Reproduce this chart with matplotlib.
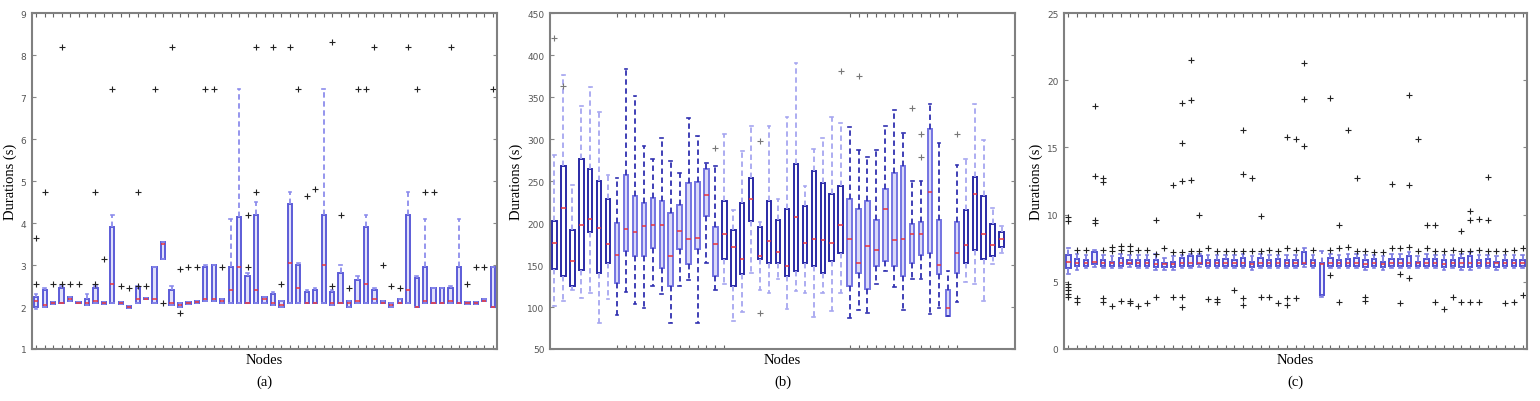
import matplotlib
matplotlib.use("Agg")
import matplotlib.pyplot as plt

# ---------------- panel (a): 55 nodes ----------------
a_q1 = [2.0, 2.0, 2.08, 2.1, 2.15, 2.1, 2.05, 2.1, 2.08, 2.1, 2.08, 1.98, 2.1, 2.18, 2.1,
        3.15, 2.05, 2.0, 2.08, 2.1, 2.15, 2.15, 2.1, 2.1, 2.1, 2.1, 2.1, 2.1, 2.05, 2.0,
        2.1, 2.1, 2.1, 2.1, 2.1, 2.05, 2.1, 2.0, 2.1, 2.1, 2.1, 2.1, 2.0, 2.1, 2.1,
        2.0, 2.1, 2.1, 2.1, 2.1, 2.1, 2.08, 2.08, 2.15, 2.0]
a_med = [2.15, 2.05, 2.1, 2.1, 2.2, 2.1, 2.1, 2.15, 2.1, 2.55, 2.1, 2.0, 2.2, 2.2, 2.2,
         3.5, 2.1, 2.05, 2.1, 2.12, 2.2, 2.2, 2.15, 2.4, 2.95, 2.1, 2.4, 2.2, 2.1, 2.05,
         3.05, 2.45, 2.1, 2.1, 3.0, 2.1, 2.1, 2.1, 2.15, 2.55, 2.2, 2.1, 2.05, 2.1, 2.4,
         2.0, 2.15, 2.1, 2.1, 2.15, 2.1, 2.1, 2.1, 2.15, 2.0]
a_q3 = [2.25, 2.4, 2.12, 2.45, 2.25, 2.12, 2.2, 2.45, 2.12, 3.9, 2.12, 2.02, 2.45, 2.22, 2.95,
        3.55, 2.4, 2.1, 2.12, 2.15, 2.95, 3.0, 2.2, 2.95, 4.15, 2.75, 4.2, 2.25, 2.3, 2.15,
        4.45, 3.0, 2.35, 2.4, 4.2, 2.35, 2.8, 2.15, 2.65, 3.9, 2.4, 2.15, 2.1, 2.2, 4.2,
        2.7, 2.95, 2.45, 2.45, 2.45, 2.95, 2.12, 2.12, 2.2, 2.95]
a_lo = [1.95, 2.0, 2.08, 2.1, 2.15, 2.1, 2.05, 2.1, 2.08, 2.1, 2.08, 1.98, 2.1, 2.18, 2.1,
        3.15, 2.05, 2.0, 2.08, 2.1, 2.15, 2.15, 2.1, 2.1, 2.1, 2.1, 2.1, 2.1, 2.05, 2.0,
        2.1, 2.1, 2.1, 2.1, 2.1, 2.05, 2.1, 2.0, 2.1, 2.1, 2.1, 2.1, 2.0, 2.1, 2.1,
        2.0, 2.1, 2.1, 2.1, 2.1, 2.1, 2.08, 2.08, 2.15, 2.0]
a_hi = [2.3, 2.45, 2.12, 2.5, 2.25, 2.12, 2.3, 2.5, 2.12, 4.2, 2.12, 2.02, 2.5, 2.22, 2.95,
        3.55, 2.5, 2.1, 2.12, 2.15, 3.0, 3.0, 2.2, 4.1, 7.2, 2.8, 4.5, 2.25, 2.35, 2.15,
        4.75, 3.05, 2.4, 2.45, 7.2, 2.4, 3.0, 2.15, 2.75, 4.2, 2.45, 2.15, 2.1, 2.2, 4.75,
        2.75, 4.1, 2.45, 2.45, 2.5, 4.1, 2.12, 2.12, 2.2, 2.95]
a_out = [[3.65, 2.55], [4.75], [2.55], [8.2, 2.55], [2.55], [2.55], [], [4.75, 2.55], [3.15],
         [7.2], [2.5], [2.45], [4.75, 2.5], [2.5], [7.2], [2.1], [8.2], [2.9, 1.85], [2.95],
         [2.95], [7.2], [7.2], [2.95], [], [], [4.2, 2.95], [4.75, 8.2], [], [8.2], [2.55],
         [8.2], [7.2], [4.65], [4.8], [], [8.3, 2.5], [4.2], [2.45], [7.2], [7.2], [8.2],
         [3.0], [2.5], [2.45], [8.2], [7.2], [4.75], [4.75], [], [8.2], [], [2.55], [2.95],
         [2.95], [7.2]]
a_style = ["A"] * 55

# ---------------- panel (b): 51 nodes ----------------
b_q1 = [145.4, 136.7, 124.8, 143.8, 189, 140.7, 152.6, 128.8, 166.5, 160.5, 160.5, 170.4,
        146.6, 124.8, 169, 150.6, 169, 208, 136.7, 156.6, 124.8, 138.7, 202, 156.6, 152.6,
        152.6, 137.5, 142.7, 152.6, 148.6, 140.7, 154.6, 163.7, 124.8, 140.7, 121.6, 148.6,
        154.6, 148.6, 136.7, 152.6, 162.5, 164.5, 138.7, 89, 140.7, 152.6, 167.7, 156.6,
        161.3, 171.6]
b_med = [176.4, 218, 154.6, 197.4, 205, 194, 175, 162.5, 192.3, 189.5, 196, 198, 197.4,
         160.5, 191, 181, 182, 233, 175, 187, 171.6, 157, 228, 160.5, 178.4, 165.7, 148.6,
         207, 176.4, 181.5, 179.2, 175.6, 197.4, 181.5, 152.6, 172.4, 168.4, 216.9, 179.2,
         181.2, 187, 187, 237, 149.8, 99, 163.7, 173.6, 234, 187, 173.6, 181.5]
b_q3 = [202, 267.7, 192, 276.4, 263.7, 249.8, 228, 200, 257.7, 232, 224, 230, 226, 212,
        222, 248, 248.6, 263.7, 195, 226, 192, 224, 253.8, 195.4, 226, 204, 216.9, 270.8,
        220.8, 261.7, 247.8, 234, 243.8, 229, 216.9, 226, 204, 240.7, 259.7, 267.7, 199.4,
        201, 312, 204, 120.8, 201, 216, 254.6, 232, 199.4, 189]
b_lo = [101, 107, 120.8, 111, 117, 81, 109.7, 91, 117.7, 103, 99, 125, 115, 81, 124.8,
        132.7, 81, 152.6, 120.8, 126.8, 83, 94, 140.7, 120.8, 117, 133.5, 97.8, 118.7,
        116.9, 88.3, 116.9, 95, 116.9, 87, 97, 93, 126.8, 142.7, 124, 97, 132.8, 132.8, 92,
        99, 89, 105.8, 129.6, 126.8, 107, 150.6, 164.5]
b_hi = [281.5, 375.6, 245.8, 339, 362, 332, 257.7, 253.8, 383.5, 351, 291.5, 275.6, 301.4,
        273.6, 259, 325, 304, 271.6, 268, 305.4, 215, 285.5, 315, 201, 316, 228.8, 326.4,
        390.7, 243.8, 288.3, 301.4, 326, 318.5, 314, 286.7, 278.8, 286.7, 315.3, 335, 307.3,
        249.8, 249.8, 342, 295.4, 142.7, 269.6, 276.4, 342, 298.6, 218, 196]
b_out = [[420], [363], [], [], [], [], [], [], [], [], [], [], [], [], [], [], [], [],
         [288.7], [], [], [], [], [298, 93], [], [], [], [], [], [], [], [], [380.8], [],
         [375], [], [], [], [], [], [337], [306, 278.8], [], [], [], [306], [], [], [], [], []]
b_style = ["D"] * 7 + ["L"] * 12 + ["D"] * 14 + ["L"] * 13 + ["D"] * 5

# ---------------- panel (c): 53 nodes ----------------
c_q1 = [6.0, 6.2, 6.2, 6.3, 6.2, 6.2, 6.2, 6.3, 6.2, 6.2, 6.1, 6.1, 6.1, 6.2, 6.2, 6.3, 6.2,
        6.2, 6.2, 6.2, 6.2, 6.1, 6.2, 6.2, 6.2, 6.2, 6.2, 6.3, 6.2, 4.0, 6.2, 6.2, 6.2, 6.2,
        6.1, 6.2, 6.1, 6.2, 6.2, 6.2, 6.2, 6.2, 6.2, 6.1, 6.2, 6.1, 6.1, 6.2, 6.2, 6.1, 6.2,
        6.2, 6.2]
c_med = [6.5, 6.4, 6.4, 6.5, 6.4, 6.4, 6.4, 6.4, 6.4, 6.4, 6.3, 6.3, 6.3, 6.4, 6.4, 6.4, 6.4,
         6.4, 6.4, 6.4, 6.4, 6.3, 6.4, 6.4, 6.4, 6.4, 6.4, 6.4, 6.4, 6.3, 6.4, 6.4, 6.4, 6.4,
         6.3, 6.4, 6.3, 6.4, 6.4, 6.4, 6.4, 6.4, 6.4, 6.3, 6.4, 6.4, 6.4, 6.4, 6.4, 6.4, 6.4,
         6.4, 6.4]
c_q3 = [7.0, 6.7, 6.6, 7.2, 6.6, 6.5, 6.8, 6.6, 6.6, 6.6, 6.6, 6.4, 6.5, 6.8, 6.9, 6.9, 6.6,
        6.6, 6.7, 6.6, 6.8, 6.5, 6.8, 6.6, 6.7, 6.6, 6.6, 7.2, 6.6, 6.4, 6.8, 6.6, 6.7, 6.8,
        6.6, 6.7, 6.5, 6.7, 6.7, 6.9, 6.5, 6.7, 6.7, 6.6, 6.6, 6.8, 6.9, 6.6, 6.7, 6.5, 6.6,
        6.6, 6.6]
c_lo = [5.6, 5.9, 6.0, 6.1, 6.0, 6.0, 6.0, 6.1, 6.0, 6.0, 5.9, 5.9, 5.9, 6.0, 6.0, 6.1, 6.0,
        6.0, 6.0, 6.0, 6.0, 5.9, 6.0, 6.0, 6.0, 6.0, 6.0, 6.1, 6.0, 3.9, 6.0, 6.0, 6.0, 6.0,
        5.9, 6.0, 5.9, 6.0, 6.0, 6.0, 6.0, 6.0, 6.0, 5.9, 6.0, 5.9, 5.9, 6.0, 6.0, 5.9, 6.0,
        6.0, 6.0]
c_hi = [7.5, 7.1, 7.0, 7.4, 7.0, 6.9, 7.1, 7.0, 7.0, 7.0, 7.1, 6.8, 6.9, 7.0, 7.1, 7.1, 7.0,
        7.0, 7.0, 7.0, 7.1, 6.9, 7.1, 7.0, 7.0, 7.0, 7.0, 7.5, 7.0, 7.3, 7.1, 7.0, 7.1, 7.1,
        7.0, 7.0, 6.9, 7.1, 7.1, 7.2, 6.9, 7.1, 7.0, 7.0, 7.0, 7.1, 7.2, 7.0, 7.0, 6.9, 7.0,
        7.0, 7.0]
c_out = [[9.8, 9.5, 4.8, 4.6, 4.4, 4.1, 3.9], [7.4, 3.8, 3.5], [7.4], [18.1, 12.9, 9.6, 9.4],
         [12.7, 12.4, 7.4, 3.8, 3.5], [7.6, 7.3, 3.2], [7.7, 7.4, 3.6], [7.7, 7.3, 3.6, 3.4],
         [7.4, 3.2], [7.4, 3.4], [9.6, 7.1, 3.9], [7.5], [12.2, 7.2, 3.9],
         [18.3, 15.3, 12.5, 7.2, 3.9, 3.1], [21.5, 18.5, 12.6, 7.3], [10.0, 7.3], [7.5, 3.7],
         [7.3, 3.7, 3.5], [7.3], [7.3, 4.4], [16.3, 13.0, 7.3, 3.8, 3.3], [12.7, 7.3],
         [9.9, 7.3, 3.9], [7.4, 3.9], [7.3, 3.4], [15.8, 7.5, 3.8, 3.3], [15.6, 7.4, 3.8],
         [21.3, 18.6, 15.1], [7.4], [], [18.7, 7.4, 5.5], [9.2, 7.5, 3.5], [16.3, 7.6],
         [12.7, 7.3], [7.3, 3.9, 3.6], [7.2], [7.2], [12.3, 7.5], [7.5, 5.6, 3.4],
         [18.9, 12.2, 7.6, 5.3], [15.6, 7.3], [9.2, 7.5], [9.2, 7.3, 3.5], [7.3, 3.0],
         [7.4, 3.9], [8.8, 7.3, 3.5], [10.3, 9.6, 7.3, 3.5], [9.7, 7.4, 3.5],
         [12.8, 9.6, 7.3], [7.3], [7.3, 3.4], [7.4, 3.5], [7.5, 4.0]]
c_style = ["C"] * 53

STYLES = {
    "A": dict(face="#e0e0fa", edge="#5c5cd8", whisk="#8c8cec", flier="#222222", ms=5),
    "L": dict(face="#dadaf8", edge="#7474e2", whisk="#3030b0", flier="#777777", ms=4),
    "D": dict(face="white", edge="#2a2aa6", whisk="#a6a6f0", flier="#777777", ms=4),
    "C": dict(face="#ececfc", edge="#5252d2", whisk="#7a7ae0", flier="#222222", ms=5),
}


def draw_panel(ax, q1, med, q3, lo, hi, out, style, nslots, ylim, yticks, tick_pos=None):
    stats = [dict(q1=q1[i], med=med[i], q3=q3[i], whislo=lo[i], whishi=hi[i],
                  fliers=out[i]) for i in range(len(q1))]
    for key in set(style):
        idx = [i for i, s in enumerate(style) if s == key]
        st = STYLES[key]
        ax.bxp([stats[i] for i in idx], positions=[i + 1 for i in idx], widths=0.5,
               patch_artist=True, manage_ticks=False, capwidths=0.3,
               boxprops=dict(facecolor=st["face"], edgecolor=st["edge"], linewidth=1.4),
               whiskerprops=dict(color=st["whisk"], linestyle=(0, (3, 2)), linewidth=1.3),
               capprops=dict(color=st["whisk"], linewidth=1.2),
               medianprops=dict(color="#e8343c", linewidth=1.1),
               flierprops=dict(marker="+", markeredgecolor=st["flier"], markersize=st["ms"],
                               markeredgewidth=0.8))
    ax.set_xlim(0.5, nslots + 0.5)
    ax.set_ylim(*ylim)
    ax.set_yticks(yticks)
    if tick_pos is None:
        tick_pos = range(1, len(q1) + 1)
    ax.set_xticks(list(tick_pos))
    ax.tick_params(axis="x", direction="in", top=True, bottom=True, length=3,
                   width=0.8, color="#666666", labelbottom=False)
    ax.tick_params(axis="y", direction="in", left=True, right=True, length=3,
                   width=0.8, color="#888888", labelsize=6.5, labelcolor="#555555", pad=4)
    for sp in ax.spines.values():
        sp.set_color("#808080")
        sp.set_linewidth(1.5)
    ax.set_xlabel("Nodes", family="Liberation Serif", fontsize=10.5, labelpad=3)
    ax.set_ylabel("Durations (s)", family="Liberation Serif", fontsize=10.5, labelpad=3)


fig = plt.figure(figsize=(15.4, 4.02), dpi=100)
ax_a = fig.add_axes([32 / 1540, 1 - 350 / 402, 465 / 1540, 336 / 402])
ax_b = fig.add_axes([550 / 1540, 1 - 350 / 402, 465 / 1540, 336 / 402])
ax_c = fig.add_axes([1064 / 1540, 1 - 350 / 402, 463 / 1540, 336 / 402])

draw_panel(ax_a, a_q1, a_med, a_q3, a_lo, a_hi, a_out, a_style, 55, (1, 9), range(1, 10))
b_ticks = [i + 1 for i, s in enumerate(b_style) if s == "L"] + [20]
draw_panel(ax_b, b_q1, b_med, b_q3, b_lo, b_hi, b_out, b_style, 52, (50, 450),
           range(50, 451, 50), tick_pos=b_ticks)
draw_panel(ax_c, c_q1, c_med, c_q3, c_lo, c_hi, c_out, c_style, 53, (0, 25), range(0, 26, 5))

for ax, lab in [(ax_a, "(a)"), (ax_b, "(b)"), (ax_c, "(c)")]:
    pos = ax.get_position()
    fig.text((pos.x0 + pos.x1) / 2, 1 - 382 / 402, lab, ha="center", va="center",
             family="Liberation Serif", fontsize=10.5)

fig.savefig("out.png", dpi=100)
